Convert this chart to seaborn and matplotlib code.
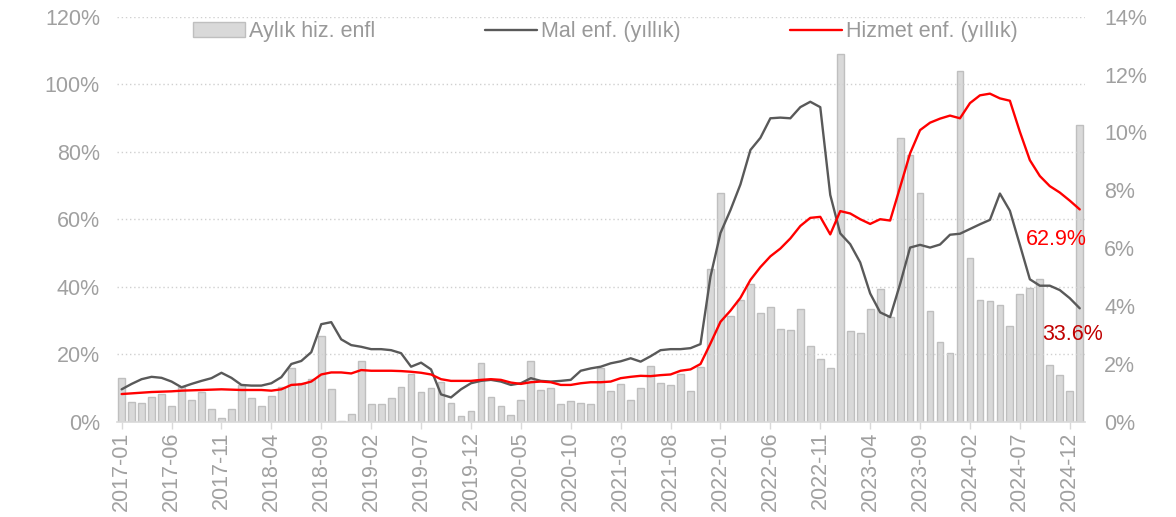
import numpy as np
import pandas as pd
import matplotlib
matplotlib.use('Agg')
import matplotlib.pyplot as plt
import seaborn as sns
from matplotlib.patches import Patch
from matplotlib.lines import Line2D
from matplotlib.ticker import FuncFormatter

# 2017-01 .. 2025-01, monthly
months = pd.date_range('2017-01-01', periods=97, freq='MS').strftime('%Y-%m').tolist()

# monthly services inflation (right axis, %)
aylik_hiz = [1.50, 0.69, 0.64, 0.86, 0.95, 0.54, 1.21, 0.75, 1.04, 0.43, 0.12, 0.43,
             1.27, 0.83, 0.54, 0.89, 1.19, 1.87, 1.35, 1.47, 2.96, 1.12, 0.03, 0.26,
             2.10, 0.60, 0.60, 0.83, 1.19, 1.65, 1.04, 1.15, 1.38, 0.66, 0.20, 0.38,
             2.02, 0.86, 0.54, 0.23, 0.75, 2.11, 1.10, 1.15, 0.60, 0.73, 0.64, 0.61,
             1.87, 1.06, 1.29, 0.74, 1.18, 1.94, 1.33, 1.26, 1.64, 1.05, 1.89, 5.29,
             7.89, 3.64, 4.20, 4.75, 3.75, 3.98, 3.21, 3.16, 3.91, 2.63, 2.18, 1.86,
             12.71, 3.14, 3.08, 3.90, 4.60, 3.63, 9.82, 9.21, 7.89, 3.84, 2.77, 2.36,
             12.13, 5.67, 4.21, 4.17, 4.03, 3.32, 4.40, 4.63, 4.92, 1.96, 1.61, 1.06,
             10.26]

# annual goods inflation (left axis, %)
mal_enf = [9.6, 11.2, 12.6, 13.3, 13.0, 11.9, 10.2, 11.2, 12.1, 12.9, 14.5, 13.0,
           10.9, 10.7, 10.7, 11.4, 13.2, 17.1, 18.0, 20.6, 28.9, 29.5, 24.4, 22.7,
           22.2, 21.5, 21.5, 21.2, 20.3, 16.3, 17.5, 15.5, 8.1, 7.2, 9.6, 11.4,
           12.1, 12.4, 11.9, 10.9, 11.4, 12.9, 12.1, 11.9, 12.1, 12.4, 15.1, 15.8,
           16.3, 17.3, 17.9, 18.8, 17.8, 19.4, 21.2, 21.5, 21.5, 21.8, 23.0, 43.0,
           55.9, 62.7, 70.3, 80.5, 84.1, 89.9, 90.1, 89.9, 93.2, 94.8, 93.2, 67.2,
           55.8, 52.6, 47.2, 38.0, 32.4, 31.0, 40.8, 51.6, 52.4, 51.6, 52.5, 55.4,
           55.7, 57.1, 58.5, 59.8, 67.6, 62.5, 52.4, 42.2, 40.3, 40.3, 39.0, 36.6,
           33.6]

# annual services inflation (left axis, %)
hizmet_enf = [8.2, 8.4, 8.6, 8.8, 8.9, 9.0, 9.2, 9.3, 9.4, 9.5, 9.6, 9.5,
              9.4, 9.4, 9.4, 9.2, 9.6, 10.9, 11.1, 11.9, 14.0, 14.6, 14.6, 14.3,
              15.3, 15.1, 15.1, 15.1, 15.0, 14.8, 14.5, 14.0, 12.6, 12.1, 12.1, 12.1,
              12.4, 12.6, 12.4, 11.6, 11.2, 11.7, 11.9, 11.7, 10.9, 10.9, 11.4, 11.7,
              11.7, 11.9, 12.9, 13.3, 13.6, 13.5, 13.8, 14.0, 15.1, 15.5, 17.1, 23.2,
              29.6, 32.9, 36.7, 42.0, 45.8, 49.0, 51.3, 54.3, 58.0, 60.4, 60.7, 55.5,
              62.4, 61.7, 60.0, 58.6, 60.0, 59.6, 69.5, 79.5, 86.4, 88.6, 89.8, 90.7,
              89.9, 94.4, 96.7, 97.2, 95.8, 95.1, 85.9, 77.5, 72.8, 69.8, 67.9, 65.5,
              62.9]

legend_labels = ['Aylık hiz. enfl', 'Mal enf. (yıllık)', 'Hizmet enf. (yıllık)']

df = pd.DataFrame({'ay': months, 'idx': np.arange(len(months)),
                   'aylik': aylik_hiz, 'mal': mal_enf, 'hizmet': hizmet_enf})

sns.set_theme(style='white')
plt.rcParams['font.family'] = ['Liberation Sans', 'DejaVu Sans']

fs = 15.5
txt_col = '#a0a0a0'
bar_col = '#d9d9d9'
bar_edge = '#bfbfbf'
mal_col = '#595959'
hiz_col = '#ff0000'

fig, ax = plt.subplots(figsize=(11.76, 5.17), dpi=100)
fig.subplots_adjust(left=0.0992, right=0.9224, bottom=0.1843, top=0.9677)
ax2 = ax.twinx()

sns.barplot(data=df, x='idx', y='aylik', ax=ax2, color=bar_col, saturation=1,
            edgecolor=bar_edge, linewidth=1, width=0.68)
sns.lineplot(data=df, x='idx', y='mal', ax=ax, color=mal_col, lw=1.7)
sns.lineplot(data=df, x='idx', y='hizmet', ax=ax, color=hiz_col, lw=1.7)

# lines above the bars
ax.set_zorder(ax2.get_zorder() + 1)
ax.patch.set_visible(False)

ax.set_xlim(-0.5, len(months) - 0.5)
ax.set_ylim(0, 120)
ax2.set_ylim(0, 14)
ax.set_yticks(range(0, 121, 20))
ax2.set_yticks(range(0, 15, 2))
ax.yaxis.set_major_formatter(FuncFormatter(lambda v, p: f'{v:.0f}%'))
ax2.yaxis.set_major_formatter(FuncFormatter(lambda v, p: f'{v:.0f}%'))

tick_pos = list(range(0, len(months), 5))
ax.set_xticks(tick_pos)
ax.set_xticklabels([months[i] for i in tick_pos], rotation=90)

ax.set_xlabel('')
ax.set_ylabel('')
ax2.set_xlabel('')
ax2.set_ylabel('')

ax.yaxis.grid(True, linestyle=(0, (1, 2)), color='#d0d0d0', lw=1)
ax.xaxis.grid(False)
ax2.grid(False)

for s in ['top', 'left', 'right']:
    ax.spines[s].set_visible(False)
for s in ax2.spines.values():
    s.set_visible(False)
ax.spines['bottom'].set_color('#d9d9d9')
ax.spines['bottom'].set_linewidth(1.2)

ax.tick_params(axis='x', bottom=True, length=5, width=1, color='#d9d9d9',
               labelsize=fs, labelcolor=txt_col, pad=2)
ax.tick_params(axis='y', left=False, length=0, labelsize=fs, labelcolor=txt_col, pad=12)
ax2.tick_params(axis='y', right=False, length=0, labelsize=fs, labelcolor=txt_col, pad=14)

ax.text(93.7, 54.1, '62.9%', color='#ff0000', fontsize=fs, ha='center', va='center')
ax.text(95.3, 25.9, '33.6%', color='#c00000', fontsize=fs, ha='center', va='center')

handles = [Patch(facecolor=bar_col, edgecolor=bar_edge),
           Line2D([], [], color=mal_col, lw=1.7),
           Line2D([], [], color=hiz_col, lw=1.7)]
ax.legend(handles, legend_labels, loc='center', bbox_to_anchor=(0.505, 0.963),
          ncol=3, frameon=False, fontsize=fs, handlelength=2.4, handletextpad=0.2,
          columnspacing=5.1, labelcolor='#999999')

fig.savefig('out.png', dpi=100)
